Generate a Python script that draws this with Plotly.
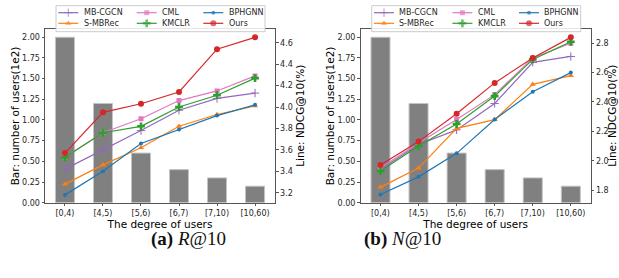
import plotly.graph_objects as go

# ---------------- data ----------------
categories = ["[0,4)", "[4,5)", "[5,6)", "[6,7)", "[7,10)", "[10,60)"]
num_users = [2.0, 1.2, 0.6, 0.4, 0.3, 0.2]  # 1e2 users

# Panel (a) R@10 (line values, %)
a_mbcgcn = [3.42, 3.60, 3.78, 3.97, 4.08, 4.13]
a_smbrec = [3.28, 3.46, 3.62, 3.82, 3.93, 4.01]
a_cml    = [3.53, 3.76, 3.89, 4.06, 4.15, 4.29]
a_kmclr  = [3.53, 3.76, 3.82, 4.00, 4.11, 4.27]
a_bphgnn = [3.18, 3.40, 3.66, 3.79, 3.92, 4.02]
a_ours   = [3.57, 3.95, 4.03, 4.14, 4.54, 4.65]

# Panel (b) N@10 (line values, %)
b_mbcgcn = [1.94, 2.11, 2.21, 2.39, 2.67, 2.71]
b_smbrec = [1.82, 1.95, 2.22, 2.28, 2.52, 2.58]
b_cml    = [1.95, 2.12, 2.28, 2.45, 2.70, 2.80]
b_kmclr  = [1.93, 2.10, 2.25, 2.44, 2.69, 2.81]
b_bphgnn = [1.77, 1.89, 2.05, 2.28, 2.47, 2.60]
b_ours   = [1.97, 2.13, 2.32, 2.53, 2.70, 2.84]

left_ticks = [0.0, 0.25, 0.5, 0.75, 1.0, 1.25, 1.5, 1.75, 2.0]
a_right_ticks = [3.2, 3.4, 3.6, 3.8, 4.0, 4.2, 4.4, 4.6]
b_right_ticks = [1.8, 2.0, 2.2, 2.4, 2.6, 2.8]

# ---------------- styles / layout constants ----------------
W, H = 619, 278
FONT = "DejaVu Sans"
TXT = "#262626"
SPINE = "#555555"

styles = {
    "MB-CGCN": dict(color="#9467bd", symbol="cross-thin", size=6),
    "S-MBRec": dict(color="#ff7f0e", symbol="triangle-up", size=5.5),
    "CML":     dict(color="#e377c2", symbol="square", size=5),
    "KMCLR":   dict(color="#2ca02c", symbol="cross", size=6.5),
    "BPHGNN":  dict(color="#1f77b4", symbol="circle", size=4),
    "Ours":    dict(color="#d62728", symbol="circle", size=6),
}
# legend columns as in the reference (3 columns, filled column-wise)
columns = [["MB-CGCN", "S-MBRec"], ["CML", "KMCLR"], ["BPHGNN", "Ours"]]
a_series = {"MB-CGCN": a_mbcgcn, "S-MBRec": a_smbrec, "CML": a_cml,
            "KMCLR": a_kmclr, "BPHGNN": a_bphgnn, "Ours": a_ours}
b_series = {"MB-CGCN": b_mbcgcn, "S-MBRec": b_smbrec, "CML": b_cml,
            "KMCLR": b_kmclr, "BPHGNN": b_bphgnn, "Ours": b_ours}

# legend geometry in page pixels (panel a; panel b shifted by dx)
LEG_BOX = (56, 5.7, 265, 31.7)       # left, top, right, bottom
LEG_COLS = [58.3, 136.7, 203.3]      # sample-line start per column
LEG_ROWS = [12.7, 23.3]              # row centres
SAMPLE_LEN = 20
TEXT_OFF = 23.4
PANELS = {"a": dict(dx=0.0, series=a_series, xa="x", ya="y2"),
          "b": dict(dx=315.7, series=b_series, xa="x2", ya="y4")}


def px(x):
    return x / W


def py(y):
    return 1 - y / H


fig = go.Figure()

# bars (left axes)
for xa, ya in (("x", "y"), ("x2", "y3")):
    fig.add_trace(go.Bar(
        x=categories, y=num_users, width=0.5,
        marker=dict(color="#808080", line=dict(color="#c4c4c4", width=1)),
        xaxis=xa, yaxis=ya, showlegend=False, name="users"))

# lines (right axes)
for tag, p in PANELS.items():
    for col in columns:
        for name in col:
            st = styles[name]
            fig.add_trace(go.Scatter(
                x=categories, y=p["series"][name], mode="lines+markers", name=name,
                line=dict(color=st["color"], width=1.2),
                marker=dict(symbol=st["symbol"], size=st["size"], color=st["color"],
                            line=dict(color=st["color"],
                                      width=1 if st["symbol"] == "cross-thin" else 0)),
                xaxis=p["xa"], yaxis=p["ya"], showlegend=False))

# legends (frame + samples on a hidden pixel-unit overlay axis, labels as text)
annotations = []
for tag, p in PANELS.items():
    dx = p["dx"]
    l, t, r, b = LEG_BOX
    fig.add_trace(go.Scatter(
        x=[l + dx, r + dx, r + dx, l + dx, l + dx], y=[t, t, b, b, t],
        mode="lines", fill="toself", fillcolor="rgba(255,255,255,0.85)",
        line=dict(color="#cccccc", width=1), xaxis="x3", yaxis="y5",
        showlegend=False, hoverinfo="skip"))
    for ci, col in enumerate(columns):
        for ri, name in enumerate(col):
            st = styles[name]
            sx = LEG_COLS[ci] + dx
            yy = LEG_ROWS[ri]
            fig.add_trace(go.Scatter(
                x=[sx, sx + SAMPLE_LEN / 2, sx + SAMPLE_LEN], y=[yy, yy, yy],
                mode="lines+markers", line=dict(color=st["color"], width=1.2),
                marker=dict(symbol=st["symbol"], size=[0, st["size"], 0], color=st["color"],
                            line=dict(color=st["color"],
                                      width=1 if st["symbol"] == "cross-thin" else 0)),
                xaxis="x3", yaxis="y5", showlegend=False, hoverinfo="skip", name=name))
            annotations.append(dict(
                text=name, x=px(sx + TEXT_OFF), y=py(yy), xref="paper", yref="paper",
                xanchor="left", yanchor="middle", showarrow=False,
                font=dict(family=FONT, size=8, color=TXT)))

ydom = [py(202.7), py(29)]
xdom_a = [px(45), px(275)]
xdom_b = [px(360.5), px(590.8)]
ymid = py((202.7 + 29) / 2)


def xaxis(domain, anchor):
    return dict(domain=domain, anchor=anchor, type="category", range=[-0.525, 5.525],
                showline=True, mirror=True, linecolor=SPINE, linewidth=1,
                ticks="outside", ticklen=2.5, tickcolor=SPINE,
                tickfont=dict(family=FONT, size=8, color=TXT),
                title=dict(text="The degree of users",
                           font=dict(family=FONT, size=10.5, color="#000"), standoff=1),
                showgrid=False, zeroline=False, fixedrange=True)


def yleft(domain, anchor):
    return dict(domain=domain, anchor=anchor, range=[0, 2.1], tickvals=left_ticks,
                tickformat=".2f", showline=True, linecolor=SPINE, linewidth=1,
                ticks="outside", ticklen=2.5, tickcolor=SPINE,
                tickfont=dict(family=FONT, size=8, color=TXT),
                showgrid=False, zeroline=False)


def yright(overlay, anchor, rng, ticks):
    return dict(overlaying=overlay, anchor=anchor, side="right", range=rng, tickvals=ticks,
                tickformat=".1f", showline=True, linecolor=SPINE, linewidth=1,
                ticks="outside", ticklen=2.5, tickcolor=SPINE,
                tickfont=dict(family=FONT, size=8, color=TXT),
                showgrid=False, zeroline=False)


# y-axis titles
for xc, txt in ((14.5, "Bar: number of users(1e2)"), (300, "Line: NDCG@10(%)"),
                (329.5, "Bar: number of users(1e2)"), (612, "Line: NDCG@10(%)")):
    annotations.append(dict(text=txt, x=px(xc), y=ymid, xref="paper", yref="paper",
                            textangle=-90, showarrow=False, xanchor="center", yanchor="middle",
                            font=dict(family=FONT, size=10.5, color="#000")))

# captions
annotations += [
    dict(text="<b>(a)</b> <i>R</i>@10", x=px(149.2), y=py(251.7), xref="paper", yref="paper",
         showarrow=False, font=dict(family="Liberation Serif", size=19, color="#111")),
    dict(text="<b>(b)</b> <i>N</i>@10", x=px(442.5), y=py(251.7), xref="paper", yref="paper",
         showarrow=False, font=dict(family="Liberation Serif", size=19, color="#111")),
]

fig.update_layout(
    width=W, height=H, margin=dict(l=0, r=0, t=0, b=0, autoexpand=False),
    paper_bgcolor="white", plot_bgcolor="rgba(0,0,0,0)",
    barmode="overlay", bargap=0, showlegend=False,
    font=dict(family=FONT, color=TXT),
    xaxis=xaxis(xdom_a, "y"),
    yaxis=yleft(ydom, "x"),
    yaxis2=yright("y", "x", [3.107, 4.728], a_right_ticks),
    xaxis2=xaxis(xdom_b, "y3"),
    yaxis3=yleft(ydom, "x2"),
    yaxis4=yright("y3", "x2", [1.714, 2.897], b_right_ticks),
    xaxis3=dict(domain=[0, 1], range=[0, W], anchor="y5", visible=False, fixedrange=True),
    yaxis5=dict(domain=[0, 1], range=[H, 0], anchor="x3", visible=False, fixedrange=True),
    annotations=annotations,
)

# remove the browser's default page margin so the 619x278 figure fills the window exactly
page_css = ("document.documentElement.style.margin='0';document.body.style.margin='0';"
            "document.documentElement.style.overflow='hidden';document.body.style.overflow='hidden';")

fig.write_html("out.html", post_script=page_css,
               config={"displayModeBar": False, "staticPlot": True})
